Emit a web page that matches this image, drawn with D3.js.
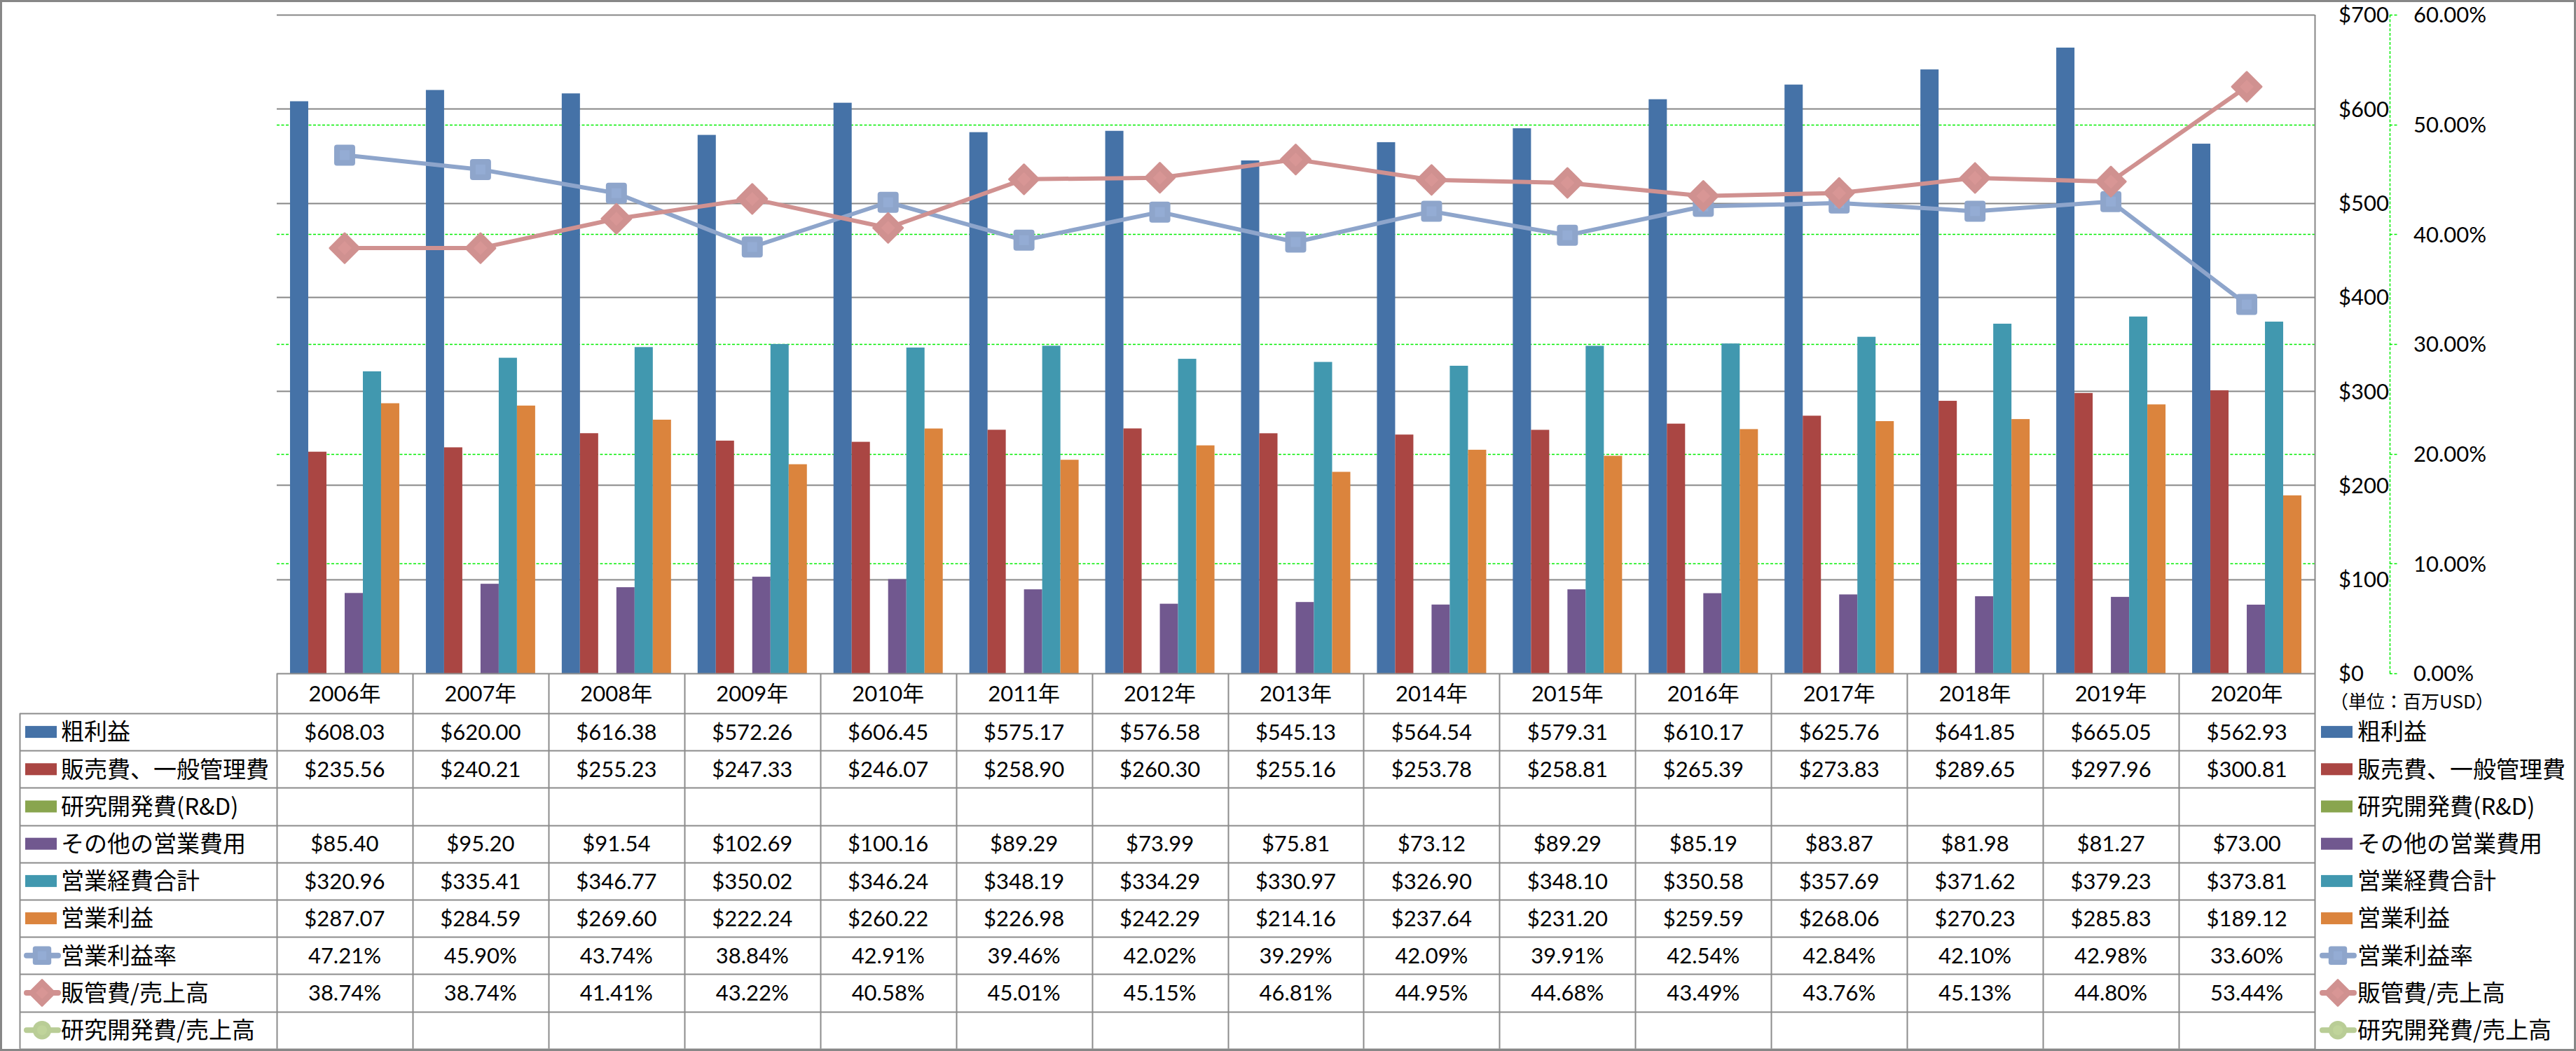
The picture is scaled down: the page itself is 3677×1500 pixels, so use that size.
<!DOCTYPE html>
<html>
<head>
<meta charset="utf-8">
<script src="https://cdn.jsdelivr.net/npm/d3@7"></script>
<style>
  html, body { margin: 0; padding: 0; background: #fff; }
  svg { display: block; }
  .num { font-family: Lato, "Noto Sans CJK JP", sans-serif; }
  .jp { font-family: "Noto Sans CJK JP", sans-serif; }
</style>
</head>
<body>
<svg id="chart" width="3677" height="1500"></svg>
<script>
// ---------------- DATA ----------------
const years = ["2006年","2007年","2008年","2009年","2010年","2011年","2012年","2013年","2014年","2015年","2016年","2017年","2018年","2019年","2020年"];

const grossProfit = [608.03, 620.00, 616.38, 572.26, 606.45, 575.17, 576.58, 545.13, 564.54, 579.31, 610.17, 625.76, 641.85, 665.05, 562.93];
const sga = [235.56, 240.21, 255.23, 247.33, 246.07, 258.90, 260.30, 255.16, 253.78, 258.81, 265.39, 273.83, 289.65, 297.96, 300.81];
const rnd = [null, null, null, null, null, null, null, null, null, null, null, null, null, null, null];
const otherOpex = [85.40, 95.20, 91.54, 102.69, 100.16, 89.29, 73.99, 75.81, 73.12, 89.29, 85.19, 83.87, 81.98, 81.27, 73.00];
const totalOpex = [320.96, 335.41, 346.77, 350.02, 346.24, 348.19, 334.29, 330.97, 326.90, 348.10, 350.58, 357.69, 371.62, 379.23, 373.81];
const opIncome = [287.07, 284.59, 269.60, 222.24, 260.22, 226.98, 242.29, 214.16, 237.64, 231.20, 259.59, 268.06, 270.23, 285.83, 189.12];

const opMargin = [47.21, 45.90, 43.74, 38.84, 42.91, 39.46, 42.02, 39.29, 42.09, 39.91, 42.54, 42.84, 42.10, 42.98, 33.60];
const sgaRatio = [38.74, 38.74, 41.41, 43.22, 40.58, 45.01, 45.15, 46.81, 44.95, 44.68, 43.49, 43.76, 45.13, 44.80, 53.44];
const rndRatio = [null, null, null, null, null, null, null, null, null, null, null, null, null, null, null];

const barNames = ["粗利益","販売費、一般管理費","研究開発費(R&D)","その他の営業費用","営業経費合計","営業利益"];
const barColors = ["#4572A7","#AA4643","#89A54E","#71588F","#4198AF","#DB843D"];
const barValues = [grossProfit, sga, rnd, otherOpex, totalOpex, opIncome];

const lineNames = ["営業利益率","販管費/売上高","研究開発費/売上高"];
const lineColors = ["#8EA5CB","#D09190","#B9CD96"];
const lineMarkers = ["square","diamond","circle"];
const lineValues = [opMargin, sgaRatio, rndRatio];

const usdTicks = [0,100,200,300,400,500,600,700];
const pctTicks = [0,0.1,0.2,0.3,0.4,0.5,0.6];
const unitLabel = "（単位：百万USD）";

// ---------------- LAYOUT ----------------
const W = 3677, H = 1500;
const plotL = 395, plotR = 3304, plotT = 21, plotB = 961;
const tableL = 28, headB = 1018, rowH = 53.2;

const svg = d3.select("#chart");

const x = d3.scaleBand().domain(years).range([plotL, plotR]).paddingInner(0).paddingOuter(0);
const x1 = d3.scaleBand().domain(barNames).range([0, x.bandwidth()]).paddingInner(0).paddingOuter(0.73);
const y = d3.scaleLinear().domain([0, 700]).range([plotB, plotT]);
const y2 = d3.scaleLinear().domain([0, 0.6]).range([plotB, plotT]);

// background
svg.append("rect").attr("width", W).attr("height", H).attr("fill", "#fff");

// green dashed percent gridlines
svg.append("g").selectAll("line").data(pctTicks.filter(t => t > 0 && t < 0.6)).join("line")
  .attr("x1", plotL).attr("x2", plotR)
  .attr("y1", d => Math.round(y2(d)) + 0.5).attr("y2", d => Math.round(y2(d)) + 0.5)
  .attr("stroke", "#00EE00").attr("stroke-width", 1.5).attr("stroke-dasharray", "4,2.5");

// gray $ gridlines
svg.append("g").selectAll("line").data(usdTicks.filter(t => t > 0)).join("line")
  .attr("x1", plotL).attr("x2", plotR)
  .attr("y1", d => Math.round(y(d)) + 0.5).attr("y2", d => Math.round(y(d)) + 0.5)
  .attr("stroke", "#878787").attr("stroke-width", 2);

// bars
const barG = svg.append("g");
barNames.forEach((name, si) => {
  barG.append("g").selectAll("rect")
    .data(years.map((yr, i) => ({ yr, v: barValues[si][i] })).filter(d => d.v != null))
    .join("rect")
    .attr("x", d => x(d.yr) + x1(name))
    .attr("width", x1.bandwidth())
    .attr("y", d => y(d.v))
    .attr("height", d => plotB - y(d.v))
    .attr("fill", barColors[si]);
});

// marker drawing helper
function drawMarker(g, type, cx, cy, color, s) {
  if (type === "square") {
    g.append("rect").attr("x", cx - 15*s).attr("y", cy - 15*s).attr("width", 30*s).attr("height", 30*s)
      .attr("rx", 4*s).attr("fill", color);
    g.append("rect").attr("x", cx - 7*s).attr("y", cy - 7*s).attr("width", 14*s).attr("height", 14*s)
      .attr("fill", d3.color(color).brighter(0.12));
  } else if (type === "diamond") {
    const r = 21*s;
    g.append("path").attr("d", `M${cx},${cy-r}L${cx+r},${cy}L${cx},${cy+r}L${cx-r},${cy}Z`)
      .attr("fill", color).attr("stroke", color).attr("stroke-width", 3*s).attr("stroke-linejoin", "round");
    const r2 = 10*s;
    g.append("path").attr("d", `M${cx},${cy-r2}L${cx+r2},${cy}L${cx},${cy+r2}L${cx-r2},${cy}Z`)
      .attr("fill", d3.color(color).brighter(0.1));
  } else {
    g.append("circle").attr("cx", cx).attr("cy", cy).attr("r", 15*s).attr("fill", color);
    g.append("circle").attr("cx", cx).attr("cy", cy).attr("r", 8*s).attr("fill", d3.color(color).brighter(0.1));
  }
}

// lines
const lineG = svg.append("g");
lineNames.forEach((name, li) => {
  const pts = years.map((yr, i) => ({ yr, v: lineValues[li][i] })).filter(d => d.v != null);
  if (!pts.length) return;
  const gen = d3.line().x(d => x(d.yr) + x.bandwidth()/2).y(d => y2(d.v/100));
  lineG.append("path").datum(pts).attr("d", gen)
    .attr("fill", "none").attr("stroke", lineColors[li]).attr("stroke-width", 6).attr("stroke-linejoin", "round");
  pts.forEach(d => drawMarker(lineG, lineMarkers[li], x(d.yr) + x.bandwidth()/2, y2(d.v/100), lineColors[li], 1));
});

// right frame line
svg.append("line").attr("x1", plotR + 0.5).attr("x2", plotR + 0.5).attr("y1", plotT).attr("y2", H)
  .attr("stroke", "#878787").attr("stroke-width", 2);

// $ axis labels
const usdAxis = d3.axisRight(y).tickValues(usdTicks).tickSize(0).tickPadding(0).tickFormat(d => "$" + d);
const ga = svg.append("g").attr("transform", `translate(3338,0)`).call(usdAxis);
ga.select(".domain").remove();
ga.selectAll("text").attr("class", "num").attr("font-size", 31).attr("fill", "#000").attr("text-anchor", "start").attr("dy", "0.35em");

// % axis: green dashed line + ticks
const ax2x = 3411;
svg.append("line").attr("x1", ax2x + 0.5).attr("x2", ax2x + 0.5).attr("y1", plotT).attr("y2", plotB)
  .attr("stroke", "#00EE00").attr("stroke-width", 1.5).attr("stroke-dasharray", "4,2.5");
svg.append("g").selectAll("line").data(pctTicks).join("line")
  .attr("x1", ax2x).attr("x2", ax2x + 12)
  .attr("y1", d => Math.round(y2(d)) + 0.5).attr("y2", d => Math.round(y2(d)) + 0.5)
  .attr("stroke", "#00EE00").attr("stroke-width", 1.5).attr("stroke-dasharray", "4,2.5");
const pctAxis = d3.axisRight(y2).tickValues(pctTicks).tickSize(0).tickPadding(0).tickFormat(d => (d*100).toFixed(2) + "%");
const gb = svg.append("g").attr("transform", `translate(3445,0)`).call(pctAxis);
gb.select(".domain").remove();
gb.selectAll("text").attr("class", "num").attr("font-size", 31).attr("fill", "#000").attr("text-anchor", "start").attr("dy", "0.35em");

// unit label
svg.append("text").attr("class", "jp").attr("x", 3326).attr("y", 1002).attr("dy", "0.35em")
  .attr("font-size", 26).attr("fill", "#000").text(unitLabel);

// ---------------- DATA TABLE ----------------
const tg = svg.append("g");
const rowNames = barNames.concat(lineNames);
const rowKinds = barNames.map(() => "bar").concat(lineNames.map(() => "line"));
const rowColors = barColors.concat(lineColors);
const rowVals = barValues.concat(lineValues);
const nRows = rowNames.length;
const rowY = i => headB + i * rowH;
const tableBottom = rowY(nRows);
const gridColor = "#8C8C8C";

// horizontal lines
tg.append("line").attr("x1", plotL).attr("x2", plotR).attr("y1", plotB + 0.5).attr("y2", plotB + 0.5).attr("stroke", gridColor).attr("stroke-width", 2);
d3.range(nRows + 1).forEach(i => {
  tg.append("line").attr("x1", tableL).attr("x2", plotR).attr("y1", Math.round(rowY(i)) + 0.5).attr("y2", Math.round(rowY(i)) + 0.5)
    .attr("stroke", gridColor).attr("stroke-width", 2);
});
// vertical lines
tg.append("line").attr("x1", tableL + 0.5).attr("x2", tableL + 0.5).attr("y1", headB).attr("y2", tableBottom).attr("stroke", gridColor).attr("stroke-width", 2);
years.forEach(yr => {
  tg.append("line").attr("x1", Math.round(x(yr)) + 0.5).attr("x2", Math.round(x(yr)) + 0.5).attr("y1", plotB).attr("y2", tableBottom)
    .attr("stroke", gridColor).attr("stroke-width", 2);
});

// year headers
tg.selectAll("text.yr").data(years).join("text").attr("class", "num")
  .attr("x", d => x(d) + x.bandwidth()/2).attr("y", (plotB + headB)/2).attr("dy", "0.36em")
  .attr("text-anchor", "middle").attr("font-size", 31).attr("fill", "#000").text(d => d);

// legend key helper
function legendKey(g, kind, color, marker, x0, cy) {
  if (kind === "bar") {
    g.append("rect").attr("x", x0).attr("y", cy - 8.5).attr("width", 45).attr("height", 17).attr("fill", color);
  } else {
    g.append("line").attr("x1", x0 + 2).attr("x2", x0 + 47).attr("y1", cy).attr("y2", cy)
      .attr("stroke", color).attr("stroke-width", 8).attr("stroke-linecap", "round");
    drawMarker(g, marker, x0 + 24, cy, color, 0.88);
  }
}

rowNames.forEach((name, ri) => {
  const cy = rowY(ri) + rowH/2;
  const kind = rowKinds[ri];
  const marker = kind === "line" ? lineMarkers[ri - barNames.length] : null;
  legendKey(tg, kind, rowColors[ri], marker, 36, cy);
  tg.append("text").attr("class", "jp").attr("x", 87).attr("y", cy).attr("dy", "0.36em")
    .attr("font-size", 33).attr("fill", "#000").text(name);
  // right legend
  legendKey(tg, kind, rowColors[ri], marker, 3313, cy);
  tg.append("text").attr("class", "jp").attr("x", 3365).attr("y", cy).attr("dy", "0.36em")
    .attr("font-size", 33).attr("fill", "#000").text(name);
  // values
  years.forEach((yr, i) => {
    const v = rowVals[ri][i];
    if (v == null) return;
    const txt = kind === "bar" ? "$" + v.toFixed(2) : v.toFixed(2) + "%";
    tg.append("text").attr("class", "num").attr("x", x(yr) + x.bandwidth()/2).attr("y", cy).attr("dy", "0.36em")
      .attr("text-anchor", "middle").attr("font-size", 31).attr("fill", "#000").text(txt);
  });
});

// outer border
svg.append("rect").attr("x", 1.5).attr("y", 1.5).attr("width", W - 3).attr("height", H - 3)
  .attr("fill", "none").attr("stroke", "#878787").attr("stroke-width", 3);
</script>
</body>
</html>
